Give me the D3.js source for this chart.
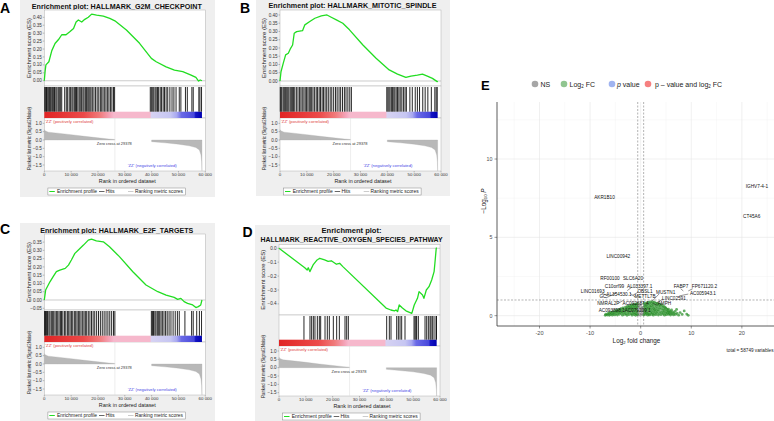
<!DOCTYPE html>
<html><head><meta charset="utf-8">
<script src="https://cdn.jsdelivr.net/npm/d3@7/dist/d3.min.js"></script>
<style>
body{margin:0;background:#fff}
svg{display:block}
text{font-family:"Liberation Sans",Arial,Helvetica,sans-serif}
</style></head>
<body><svg id="c" width="774" height="421"></svg>
<script>
// ================= DATA =================
// GSEA enrichment score curves: [rank, ES]
const esA = [[0,0],[300,0.06],[600,0.10],[1700,0.12],[2800,0.19],[4000,0.235],[5300,0.26],[6500,0.29],[8100,0.29],[9600,0.31],[10900,0.33],[11850,0.37],[12700,0.383],[13950,0.37],[15100,0.387],[16400,0.40],[17650,0.42],[19500,0.414],[22000,0.408],[24400,0.393],[26300,0.378],[30600,0.32],[35500,0.236],[39900,0.141],[41700,0.12],[45400,0.088],[48500,0.067],[51600,0.057],[54700,0.036],[56500,0.021],[57500,-0.002],[58100,0.005],[58749,0.0]];
const esB = [[0,0],[370,0.056],[1200,0.107],[2100,0.158],[3100,0.168],[3950,0.198],[4700,0.218],[5300,0.289],[6200,0.299],[8400,0.305],[9260,0.34],[11100,0.36],[13000,0.38],[15400,0.394],[17500,0.40],[19100,0.386],[21000,0.37],[23400,0.35],[25900,0.31],[30900,0.218],[35800,0.138],[40700,0.067],[43800,0.042],[46900,0.022],[48800,0.03],[51200,0.036],[53100,0.042],[54900,0.03],[56800,0.016],[58600,-0.004],[58749,0]];
const esC = [[0,0],[500,0.06],[2100,0.11],[3300,0.141],[4500,0.171],[5800,0.181],[7800,0.191],[9000,0.211],[10100,0.242],[11400,0.282],[12700,0.302],[14600,0.332],[16400,0.362],[17600,0.368],[19400,0.358],[22000,0.352],[24300,0.322],[28000,0.262],[33000,0.171],[37900,0.091],[42300,0.05],[45400,0.03],[48400,0.016],[49700,0.004],[50900,0.01],[52100,-0.01],[53400,-0.02],[55300,-0.03],[56500,-0.046],[57400,-0.04],[58300,-0.03],[58749,0]];
const esD = [[0,0],[9600,-0.14],[10500,-0.156],[10900,-0.14],[11500,-0.168],[12700,-0.12],[14200,-0.084],[15200,-0.072],[17000,-0.084],[18300,-0.095],[19500,-0.09],[21400,-0.115],[22600,-0.108],[23800,-0.132],[39900,-0.43],[41700,-0.444],[43000,-0.45],[43600,-0.444],[44200,-0.455],[44800,-0.408],[46000,-0.43],[47300,-0.45],[49500,-0.468],[50400,-0.408],[51600,-0.36],[52200,-0.312],[53500,-0.336],[54000,-0.36],[54900,-0.3],[55900,-0.276],[56900,-0.228],[57800,-0.168],[58100,-0.108],[58600,0.0],[58749,0.005]];

// GSEA hit positions (ranks)
const hitsA = [150,500,820,1100,1500,1900,2250,2600,3100,3500,3800,4300,4700,5200,5600,6100,6500,7600,8200,8700,9300,9800,10300,10700,11200,11600,12000,12500,13000,13400,13900,14400,14800,15300,15700,16200,16600,17000,17400,17900,18500,19100,19700,20300,20900,21400,21900,22500,23000,23600,24100,24700,25200,25800,26200,39500,39900,40400,40800,41300,41700,42200,42600,43200,43700,44300,44800,45400,46000,46800,47600,48300,49100,50300,50900,52600,53300,55000,55500,57600,58000,58600];
const hitsB = [100,400,700,1200,1600,2000,2500,2900,3300,3800,4200,4600,5000,5500,6100,6700,7300,7800,8300,8900,9400,9900,10400,10900,11300,11800,12300,12900,13500,14000,14600,15100,15700,16200,16800,17400,18000,18700,19300,20000,20700,21300,22000,22600,23300,24000,24600,25300,26000,26600,39800,40200,40600,41000,41500,41900,42400,42800,43300,43800,44300,44800,45400,46000,46600,47100,48400,49300,50400,51200,52000,53200,54100,55100,56400,57700,58200,58600];
const hitsC = [100,450,800,1200,1700,2100,2600,3000,3500,4000,4500,5000,5500,6000,6400,6900,7500,8000,8600,9100,9600,10100,10600,11200,11700,12200,12700,13200,13700,14300,14800,15300,15800,16400,17000,17600,18200,18800,19500,20200,20900,21600,22300,23000,23700,24400,25100,25800,26300,39900,40300,40700,41200,41600,42100,42500,43000,43500,44000,44600,45200,45800,46500,47200,48000,48800,49600,50300,52400,54900,55500,56800,57800,58600];
const hitsD = [9300,11550,12170,12800,13400,14290,15030,15530,17150,18010,18760,20250,21490,22490,24600,25220,25840,40130,41120,41740,43860,44480,45100,45720,46960,50320,50690,51060,51310,51930,54420,55040,55660,56280,56650,57150,57770,58520,58700];

// ranked list metric (shared by all four plots): [rank, metric]
const rankedPos = [[0,0.62],[300,0.55],[1500,0.47],[5000,0.41],[10000,0.32],[15000,0.22],[20000,0.13],[24000,0.06],[26300,0.03]];
const rankedNeg = [[40000,-0.1],[45000,-0.17],[50000,-0.25],[54000,-0.35],[56500,-0.45],[57800,-0.6],[58400,-0.9],[58650,-1.3],[58749,-1.85]];
const totalGenes = 58749;
const zeroCrossRank = 26300;

// tick values / labels
const rankXTicks = [0,10000,20000,30000,40000,50000,60000];
const rankYTicks = [1.0,0.5,0.0,-0.5,-1.0,-1.5];
const esTicksAB = [0,0.05,0.1,0.15,0.2,0.25,0.3,0.35,0.4];
const esTicksC = [-0.05,0,0.05,0.1,0.15,0.2,0.25,0.3,0.35];
const esTicksD = [0,-0.1,-0.2,-0.3,-0.4];
const titleA = ['Enrichment plot: HALLMARK_G2M_CHECKPOINT'];
const titleB = ['Enrichment plot: HALLMARK_MITOTIC_SPINDLE'];
const titleC = ['Enrichment plot: HALLMARK_E2F_TARGETS'];
const titleD = ['Enrichment plot:','HALLMARK_REACTIVE_OXYGEN_SPECIES_PATHWAY'];
const legendItems = ['Enrichment profile','Hits','Ranking metric scores'];
const posLabel = "'ZZ' (positively correlated)";
const negLabel = "'ZZ' (negatively correlated)";
const zeroLabel = 'Zero cross at 29378';

// colour bar stops: [fraction of list, colour]
const barStops = [[0,'#e02424'],[0.25,'#ec4a4a'],[0.35,'#f07a7a'],[0.42,'#f4a6bc'],[0.44,'#f6b8cc'],[0.67,'#f6b8cc'],[0.68,'#d6d2f2'],[0.8,'#c6c6f2'],[0.84,'#a8a8f0'],[0.87,'#6a6ae6'],[0.95,'#4848dc'],[0.96,'#1414c4'],[1,'#0000b0']];

// Volcano plot data: [log2FC, -log10P]
const volGreen = [[-7.0,0.02],[-6.9,0.09],[-6.6,0.04],[-6.5,0.12],[-6.3,0.17],[-6.2,0.02],[-6.0,0.08],[-5.9,0.21],[-5.8,0.14],[-5.6,0.03],[-5.5,0.26],[-5.4,0.1],[-5.3,0.18],[-5.1,0.05],[-5.0,0.3],[-4.9,0.22],[-4.8,0.13],[-4.7,0.35],[-4.6,0.04],[-4.5,0.27],[-4.4,0.18],[-4.3,0.4],[-4.2,0.09],[-4.1,0.32],[-4.0,0.22],[-3.9,0.45],[-3.8,0.14],[-3.7,0.37],[-3.6,0.03],[-3.6,0.27],[-3.5,0.5],[-3.4,0.19],[-3.3,0.42],[-3.2,0.08],[-3.1,0.33],[-3.0,0.55],[-3.0,0.24],[-2.9,0.12],[-2.8,0.47],[-2.7,0.38],[-2.7,0.02],[-2.6,0.6],[-2.5,0.29],[-2.5,0.17],[-2.4,0.52],[-2.3,0.07],[-2.3,0.43],[-2.2,0.64],[-2.1,0.34],[-2.1,0.22],[-2.0,0.56],[-1.9,0.12],[-1.9,0.47],[-1.8,0.68],[-1.7,0.38],[-1.7,0.03],[-1.6,0.27],[-1.6,0.6],[-1.5,0.16],[-1.5,0.5],[-1.4,0.72],[-1.3,0.41],[-1.3,0.08],[-1.2,0.63],[-1.2,0.31],[-1.1,0.2],[-1.1,0.53],[-1.0,0.74],[-1.0,0.02],[-0.9,0.44],[-0.9,0.12],[-0.8,0.66],[-0.8,0.34],[-0.7,0.24],[-0.7,0.56],[-0.65,0.76],[-0.62,0.07],
[0.62,0.05],[0.65,0.78],[0.7,0.27],[0.7,0.58],[0.8,0.16],[0.8,0.45],[0.9,0.7],[0.9,0.36],[1.0,0.08],[1.0,0.6],[1.1,0.25],[1.1,0.82],[1.2,0.48],[1.2,0.14],[1.3,0.7],[1.3,0.37],[1.4,0.03],[1.4,0.58],[1.5,0.84],[1.5,0.2],[1.6,0.46],[1.6,0.1],[1.7,0.74],[1.7,0.32],[1.8,0.62],[1.8,0.05],[1.9,0.88],[1.9,0.42],[2.0,0.18],[2.0,0.53],[2.1,0.78],[2.1,0.28],[2.2,0.66],[2.2,0.09],[2.3,0.9],[2.3,0.4],[2.4,0.2],[2.4,0.58],[2.5,0.76],[2.5,0.03],[2.6,0.32],[2.6,0.48],[2.7,0.86],[2.7,0.13],[2.8,0.66],[2.8,0.4],[2.9,0.24],[3.0,0.8],[3.0,0.55],[3.0,0.06],[3.1,0.34],[3.2,0.7],[3.2,0.16],[3.3,0.46],[3.4,0.78],[3.4,0.27],[3.5,0.04],[3.5,0.6],[3.6,0.38],[3.7,0.72],[3.7,0.14],[3.8,0.5],[3.9,0.26],[3.9,0.64],[4.0,0.06],[4.1,0.42],[4.1,0.7],[4.2,0.2],[4.3,0.55],[4.4,0.33],[4.4,0.1],[4.5,0.62],[4.6,0.45],[4.6,0.22],[4.7,0.03],[4.8,0.54],[4.8,0.34],[4.9,0.14],[5.0,0.48],[5.1,0.26],[5.1,0.06],[5.2,0.4],[5.3,0.18],[5.4,0.32],[5.5,0.08],[5.5,0.42],[5.6,0.22],[5.7,0.13],[5.8,0.3],[5.9,0.04],[6.0,0.2],[6.1,0.36],[6.2,0.1],[6.3,0.24],[6.5,0.05],[6.6,0.16],[6.8,0.28],[6.9,0.08],[7.1,0.4],[7.2,0.14],[7.5,0.03],[7.8,0.2],[8.2,0.08],[8.6,0.3],[9.1,0.1],[9.4,0.02]];
const volGrey = [[-0.5,0.05],[-0.45,0.55],[-0.4,0.3],[-0.3,0.62],[-0.25,0.15],[-0.15,0.45],[-0.05,0.02],[0.0,0.7],[0.05,0.32],[0.12,0.12],[0.2,0.55],[0.25,0.25],[0.33,0.48],[0.4,0.08],[0.47,0.38]];
const volLabels = [['IGHV7-4-1',22.98,8.25],['CT45A6',21.94,6.36],['AKR1B10',-7.15,7.57],['LINC00942',-4.43,3.78],['RF00100',-6.07,2.37],['SLC6A20',-1.52,2.37],['C10orf99',-5.18,1.9],['AL033397.1',-0.2,1.9],['LINC01693',-9.49,1.54],['OBSL1',0.85,1.58],['AL354530.1',-4.29,1.35],['METTL7B',0.85,1.26],['GC',-7.45,1.23],['NMRAL2P',-6.4,0.78],['AC092687.4',-1.0,0.78],['AMPH',4.7,0.78],['AC093898.1',-5.73,0.34],['AC079209.1',-0.6,0.36],['MUSTN1',4.94,1.51],['LINC02591',6.58,1.14],['FABP7',7.96,1.86],['FP671120.2',12.6,1.86],['AC005943.1',12.3,1.42]];
const volSegments = [[-7.71,1.43,-6.4,1.26],[-6.86,1.13,-4.74,1.47],[-4.43,0.79,-3.3,1.0],[-1.78,1.81,-2.65,1.6],[-0.47,1.51,-1.58,1.3],[-0.99,1.17,-2.11,1.43],[3.62,1.38,2.37,0.96],[4.35,1.05,3.16,0.83],[9.41,1.38,7.63,1.26],[7.9,1.72,8.42,1.58],[10.28,1.72,9.41,1.58],[3.28,0.66,2.37,0.79]];
const volXMajor = [-20,-10,0,10,20];
const volXMinor = [-25,-15,-5,5,15,25];
const volYMajor = [0,5,10];
const volYMinor = [2.5,7.5,12.5];
const fcCut = 0.585, pCut = 1.0;
const volLegendColors = ['#a6a6a6','#90c590','#a0b4f0','#f68080'];

// ================= DRAW =================
const svg = d3.select('#c');
const defs = svg.append('defs');
const grad = defs.append('linearGradient').attr('id','bar').attr('x1',0).attr('x2',1).attr('y1',0).attr('y2',0);
barStops.forEach(s=>grad.append('stop').attr('offset',s[0]).attr('stop-color',s[1]));

function T(parent,x,y,s,o){
  o=o||{};
  const t=parent.append('text').attr('x',x).attr('y',y).text(s)
    .attr('font-size',o.size||5).attr('fill',o.fill||'#222')
    .attr('text-anchor',o.anchor||'start');
  if(o.bold) t.attr('font-weight','bold');
  if(o.len) t.attr('textLength',o.len).attr('lengthAdjust','spacingAndGlyphs');
  if(o.rot) t.attr('transform',`rotate(-90,${x},${y})`);
  return t;
}

const panels = [
 {letter:'A',lx:0,ly:12.5,bg:[20,0,195,197],x0:44.3,title:titleA,titleY:[8.5],titleW:[170],esTop:10,esBot:86,rankTop:118,rankBot:171,esDom:[-0.033,0.446],esTicks:esTicksAB,esFmt:'.2f',rankDom:[-1.86,1.32],es:esA,hits:hitsA},
 {letter:'B',lx:240,ly:12.5,bg:[256,0,194,196],x0:280,title:titleB,titleY:[8],titleW:[168],esTop:10,esBot:86,rankTop:118,rankBot:171,esDom:[-0.0303,0.43],esTicks:esTicksAB,esFmt:'.2f',rankDom:[-1.86,1.32],es:esB,hits:hitsB},
 {letter:'C',lx:0,ly:234,bg:[20,223,195,198],x0:44.3,title:titleC,titleY:[233],titleW:[153],esTop:234,esBot:310,rankTop:342,rankBot:395,esDom:[-0.0605,0.399],esTicks:esTicksC,esFmt:'.2f',rankDom:[-1.86,1.32],es:esC,hits:hitsC},
 {letter:'D',lx:242.5,ly:237,bg:[255,225,195,196],x0:279,title:titleD,titleY:[233,242],titleW:[60,182],esTop:244.5,esBot:315,rankTop:346,rankBot:396,esDom:[-0.48,0.027],esTicks:esTicksD,esFmt:'.1f',rankDom:[-1.7,1.3],es:esD,hits:hitsD}
];

const fmtRank = v => d3.format(',')(v).replace(/,/g,' ');

panels.forEach((p,pi)=>{
  const g = svg.append('g');
  g.append('rect').attr('x',p.bg[0]).attr('y',p.bg[1]).attr('width',p.bg[2]).attr('height',p.bg[3]).attr('fill','#efefef');
  T(g,p.lx,p.ly,p.letter,{size:14,bold:true,fill:'#000'});
  const W = 161;
  const x = d3.scaleLinear().domain([0,60000]).range([p.x0,p.x0+W]);
  const yE = d3.scaleLinear().domain(p.esDom).range([p.esBot,p.esTop]);
  const yR = d3.scaleLinear().domain(p.rankDom).range([p.rankBot,p.rankTop]).clamp(true);
  const cx = p.x0+72.5;
  p.title.forEach((t,i)=>T(g,cx,p.titleY[i],t,{size:7.5,bold:true,anchor:'middle',len:p.titleW[i],fill:'#111'}));
  [[p.esTop,p.esBot],[p.esBot,p.rankTop],[p.rankTop,p.rankBot]].forEach(r=>{
    g.append('rect').attr('x',p.x0).attr('y',r[0]).attr('width',W).attr('height',r[1]-r[0])
     .attr('fill','#fff').attr('stroke','#b0b0b0').attr('stroke-width',0.5);
  });
  if(p.esDom[0]<0 && p.esDom[1]>0)
    g.append('line').attr('x1',p.x0).attr('x2',p.x0+W).attr('y1',yE(0)).attr('y2',yE(0)).attr('stroke','#999').attr('stroke-width',0.5);
  p.esTicks.forEach(v=>{
    g.append('line').attr('x1',p.x0-1.5).attr('x2',p.x0).attr('y1',yE(v)).attr('y2',yE(v)).attr('stroke','#666').attr('stroke-width',0.4);
    T(g,p.x0-2.4,yE(v)+1.6,d3.format(p.esFmt)(v),{size:4.6,anchor:'end',fill:'#333'});
  });
  T(g,p.x0-13.8,(p.esTop+p.esBot)/2,'Enrichment score (ES)',{size:5.8,anchor:'middle',rot:true,len:60,fill:'#222'});
  g.append('path').datum(p.es).attr('d',d3.line().x(d=>x(d[0])).y(d=>yE(d[1])))
    .attr('fill','none').attr('stroke','#22dd22').attr('stroke-width',1.3).attr('stroke-linejoin','round');
  const barTop = p.rankTop-6.3;
  g.append('rect').attr('x',x(0)).attr('y',barTop).attr('width',x(totalGenes)-x(0)).attr('height',p.rankTop-barTop).attr('fill','url(#bar)');
  g.selectAll(null).data(p.hits).enter().append('line')
    .attr('x1',d=>x(d)).attr('x2',d=>x(d)).attr('y1',p.esBot+1).attr('y2',barTop)
    .attr('stroke','#000').attr('stroke-width',0.85);
  const area = d3.area().x(d=>x(d[0])).y0(yR(0)).y1(d=>yR(d[1]));
  [rankedPos,rankedNeg].forEach(a=>g.append('path').datum(a).attr('d',area).attr('fill','#b8b8b8').attr('stroke','#aaa').attr('stroke-width',0.3));
  g.append('line').attr('x1',x(zeroCrossRank)).attr('x2',x(zeroCrossRank)).attr('y1',p.rankTop).attr('y2',p.rankBot).attr('stroke','#ddd').attr('stroke-width',0.5);
  rankYTicks.forEach(v=>{
    g.append('line').attr('x1',p.x0-1.5).attr('x2',p.x0).attr('y1',yR(v)).attr('y2',yR(v)).attr('stroke','#666').attr('stroke-width',0.4);
    T(g,p.x0-2.4,yR(v)+1.6,d3.format('.1f')(v),{size:4.6,anchor:'end',fill:'#333'});
  });
  T(g,p.x0-13.6,p.rankTop+20.5,'Ranked list metric (Signal2Noise)',{size:4.8,anchor:'middle',rot:true,len:63,fill:'#222'});
  T(g,p.x0+1,p.rankTop+4.6,posLabel,{size:4.2,fill:'#e04040',len:48});
  T(g,p.x0+70,yR(0)+5,zeroLabel,{size:4.2,fill:'#333',anchor:'middle',len:35});
  T(g,p.x0+83.4,p.rankBot-4.5,negLabel,{size:4.2,fill:'#4646e6',len:49});
  rankXTicks.forEach(v=>{
    g.append('line').attr('x1',x(v)).attr('x2',x(v)).attr('y1',p.rankBot).attr('y2',p.rankBot+1.5).attr('stroke','#666').attr('stroke-width',0.4);
    T(g,x(v),p.rankBot+5.2,fmtRank(v),{size:4.4,anchor:'middle',fill:'#333'});
  });
  T(g,p.x0+83,p.rankBot+11.5,'Rank in ordered dataset',{size:6,anchor:'middle',len:57,fill:'#222'});
  const ly = p.rankBot+17, lh = 7;
  g.append('rect').attr('x',p.x0+3.6).attr('y',ly).attr('width',137.5).attr('height',lh).attr('fill','#fff').attr('stroke','#888').attr('stroke-width',0.5);
  const lc = ly+lh/2;
  const items = [[5,12.7,40,'#22dd22',1],[54.7,61.4,9,'#000',0.6],[83.7,90.6,48,'#aaa',0.6]];
  items.forEach((it,i)=>{
    g.append('line').attr('x1',p.x0+it[0]).attr('x2',p.x0+it[0]+5.5).attr('y1',lc).attr('y2',lc).attr('stroke',it[3]).attr('stroke-width',it[4]);
    T(g,p.x0+it[1],lc+1.7,legendItems[i],{size:5,len:it[2],fill:'#222'});
  });
});

// ================= VOLCANO =================
const V = svg.append('g');
const vx = d3.scaleLinear().domain([-28.4,26.35]).range([497,774]);
const vy = d3.scaleLinear().domain([-0.66,13.64]).range([326,102]);
T(V,481,89.5,'E',{size:13,bold:true,fill:'#000'});
volXMinor.forEach(v=>V.append('line').attr('x1',vx(v)).attr('x2',vx(v)).attr('y1',102).attr('y2',326).attr('stroke','#f0f0f0').attr('stroke-width',0.4));
volYMinor.forEach(v=>V.append('line').attr('x1',497).attr('x2',774).attr('y1',vy(v)).attr('y2',vy(v)).attr('stroke','#f0f0f0').attr('stroke-width',0.4));
volXMajor.forEach(v=>V.append('line').attr('x1',vx(v)).attr('x2',vx(v)).attr('y1',102).attr('y2',326).attr('stroke','#e6e6e6').attr('stroke-width',0.6));
volYMajor.forEach(v=>V.append('line').attr('x1',497).attr('x2',774).attr('y1',vy(v)).attr('y2',vy(v)).attr('stroke','#e6e6e6').attr('stroke-width',0.6));
V.selectAll(null).data(volGrey).enter().append('circle').attr('cx',d=>vx(d[0])).attr('cy',d=>vy(d[1])).attr('r',1.3).attr('fill','#4d4d4d').attr('fill-opacity',0.45);
V.selectAll(null).data(volGreen).enter().append('circle').attr('cx',d=>vx(d[0])).attr('cy',d=>vy(d[1])).attr('r',1.4).attr('fill','#228b22').attr('fill-opacity',0.7);
[-fcCut,fcCut].forEach(v=>V.append('line').attr('x1',vx(v)).attr('x2',vx(v)).attr('y1',102).attr('y2',326).attr('stroke','#555').attr('stroke-width',0.45).attr('stroke-dasharray','2,1.5'));
V.append('line').attr('x1',497).attr('x2',774).attr('y1',vy(pCut)).attr('y2',vy(pCut)).attr('stroke','#555').attr('stroke-width',0.45).attr('stroke-dasharray','2,1.5');
V.selectAll(null).data(volSegments).enter().append('line')
 .attr('x1',d=>vx(d[0])).attr('y1',d=>vy(d[1])).attr('x2',d=>vx(d[2])).attr('y2',d=>vy(d[3]))
 .attr('stroke','#111').attr('stroke-width',0.45);
volLabels.forEach(l=>T(V,vx(l[1]),vy(l[2])+1.7,l[0],{size:4.7,anchor:'middle',fill:'#111'}));
V.append('line').attr('x1',497).attr('x2',497).attr('y1',102).attr('y2',326).attr('stroke','#333').attr('stroke-width',0.8);
V.append('line').attr('x1',497).attr('x2',774).attr('y1',326).attr('y2',326).attr('stroke','#333').attr('stroke-width',0.8);
volXMajor.forEach(v=>{
  V.append('line').attr('x1',vx(v)).attr('x2',vx(v)).attr('y1',326).attr('y2',328.5).attr('stroke','#333').attr('stroke-width',0.5);
  T(V,vx(v),335.3,String(v),{size:5.6,anchor:'middle',fill:'#4d4d4d'});
});
volYMajor.forEach(v=>{
  V.append('line').attr('x1',494.5).attr('x2',497).attr('y1',vy(v)).attr('y2',vy(v)).attr('stroke','#333').attr('stroke-width',0.5);
  T(V,492.5,vy(v)+1.9,String(v),{size:5.3,anchor:'end',fill:'#4d4d4d'});
});
const xt = V.append('text').attr('x',636.5).attr('y',342.5).attr('text-anchor','middle').attr('font-size',6.4).attr('fill','#222');
xt.append('tspan').text('Log');
xt.append('tspan').text('2').attr('font-size',4.2).attr('dy',1.3);
xt.append('tspan').text(' fold change').attr('dy',-1.3);
const yt = V.append('text').attr('x',485.5).attr('y',201).attr('text-anchor','middle').attr('font-size',6.4).attr('fill','#222').attr('transform','rotate(-90,485.5,201)');
yt.append('tspan').text('\u2212Log');
yt.append('tspan').text('10').attr('font-size',4.2).attr('dy',1.3);
yt.append('tspan').text(' ').attr('dy',-1.3);
yt.append('tspan').text('P').attr('font-style','italic');
T(V,773.5,352,'total = 58749 variables',{size:4.6,anchor:'end',fill:'#222',len:47});
const legX = [535,564,612,648];
const legTX = [540.5,569.5,617,655];
legX.forEach((lx,i)=>{
  V.append('circle').attr('cx',lx).attr('cy',84).attr('r',3.3).attr('fill',volLegendColors[i]);
});
T(V,legTX[0],86.6,'NS',{size:7,fill:'#222'});
const l2 = V.append('text').attr('x',legTX[1]).attr('y',86.6).attr('font-size',7).attr('fill','#222');
l2.append('tspan').text('Log'); l2.append('tspan').text('2').attr('font-size',4.5).attr('dy',1.4); l2.append('tspan').text(' FC').attr('dy',-1.4);
const l3 = V.append('text').attr('x',legTX[2]).attr('y',86.6).attr('font-size',7).attr('fill','#222');
l3.append('tspan').text('p').attr('font-style','italic'); l3.append('tspan').text(' value');
const l4 = V.append('text').attr('x',legTX[3]).attr('y',86.6).attr('font-size',7).attr('fill','#222');
l4.append('tspan').text('p \u2013 value and log'); l4.append('tspan').text('2').attr('font-size',4.5).attr('dy',1.4); l4.append('tspan').text(' FC').attr('dy',-1.4);
</script>
</body></html>
